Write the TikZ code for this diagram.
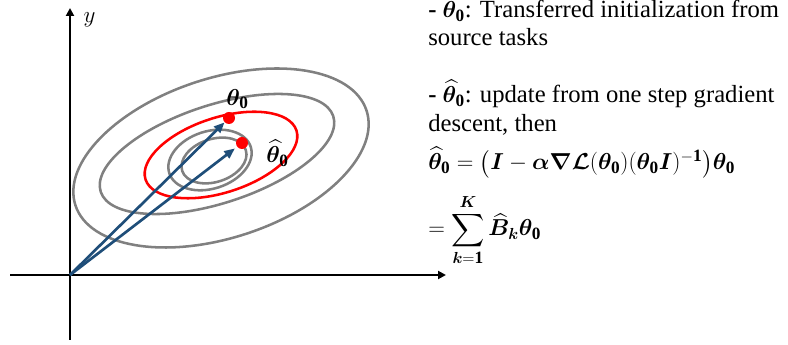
\documentclass[tikz,border=0pt]{standalone}
\usepackage{amsmath,bm}
\usepackage{fontspec}
\setmainfont{Liberation Serif}
\usetikzlibrary{arrows.meta}
\definecolor{contgray}{RGB}{128,128,128}
\definecolor{vecblue}{RGB}{31,78,121}
\newcommand{\bth}{\bm{\theta}_{\mathbf{0}}}
\begin{document}
\begin{tikzpicture}[x=0.75pt,y=0.75pt,
  axis/.style={line width=2pt,-{Triangle[length=6pt,width=6pt]}},
  contour/.style={line width=1.9pt,draw=contgray},
  redcont/.style={line width=1.9pt,draw=red},
  vec/.style={line width=2pt,draw=vecblue,-{Triangle[length=8pt,width=6.5pt]}},
  dot/.style={circle,fill=red,inner sep=0pt,minimum size=9pt},
  txt/.style={anchor=base west,inner sep=0pt,font=\fontsize{18.5}{22}\selectfont},
  lbl/.style={inner sep=0pt,font=\fontsize{18.5}{22}\selectfont}]
\useasboundingbox (0,0) rectangle (788,345);
% contours
\draw[contour,rotate around={18:(221,187)}] (221,187) ellipse [x radius=114.8pt,y radius=59.9pt];
\draw[contour,rotate around={18:(217,191)}] (217,191) ellipse [x radius=91.7pt,y radius=36.8pt];
\draw[contour,rotate around={18:(210,185)}] (210,185) ellipse [x radius=32.1pt,y radius=21.5pt];
\draw[contour,rotate around={18:(214,184.5)}] (214,184.5) ellipse [x radius=25.1pt,y radius=16.1pt];
\draw[redcont,rotate around={18:(221,190)}] (221,190) ellipse [x radius=59.5pt,y radius=28.1pt];
% axes
\coordinate (O) at (70,70);
\coordinate (xl) at (10,70);
\coordinate (xr) at (446,70);
\coordinate (yb) at (70,5);
\coordinate (yt) at (70,337);
\draw[axis] (xl) -- (xr);
\draw[axis] (yb) -- (yt);
\node[lbl] (ylab) at (89.5,325) {$y$};
% points
\node[dot] (d1) at (229,227) {};
\node[dot] (d2) at (242,202) {};
\draw[vec] (O) -- (d1);
\draw[vec,shorten >=2pt] (O) -- (d2);
\node[lbl] (l1) at (237.5,246) {$\bth$};
\node[lbl] (l2) at (277.5,191.5) {$\widehat{\bm{\theta}}_{\mathbf{0}}$};
% text
\node[txt] (t1) at (428,327) {\textbf{-} $\bth$: Transferred initialization from};
\node[txt] (t2) at (428,299) {source tasks};
\node[txt] (t3) at (428,242) {\textbf{-} $\widehat{\bm{\theta}}_{\mathbf{0}}$: update from one step gradient};
\node[txt] (t4) at (428,213) {descent, then};
\node[txt] (t5) at (428,175) {$\widehat{\bm{\theta}}_{\mathbf{0}} = \bigl(\bm{I} - \bm{\alpha}\bm{\nabla}\bm{\mathcal{L}}(\bth)(\bth\bm{I})^{-\mathbf{1}}\bigr)\bth$};
\node[txt] (t6) at (428,109) {$\displaystyle = \sum_{\bm{k}=\mathbf{1}}^{\bm{K}} \widehat{\bm{B}}_{\bm{k}}\bth$};
\end{tikzpicture}
\end{document}
